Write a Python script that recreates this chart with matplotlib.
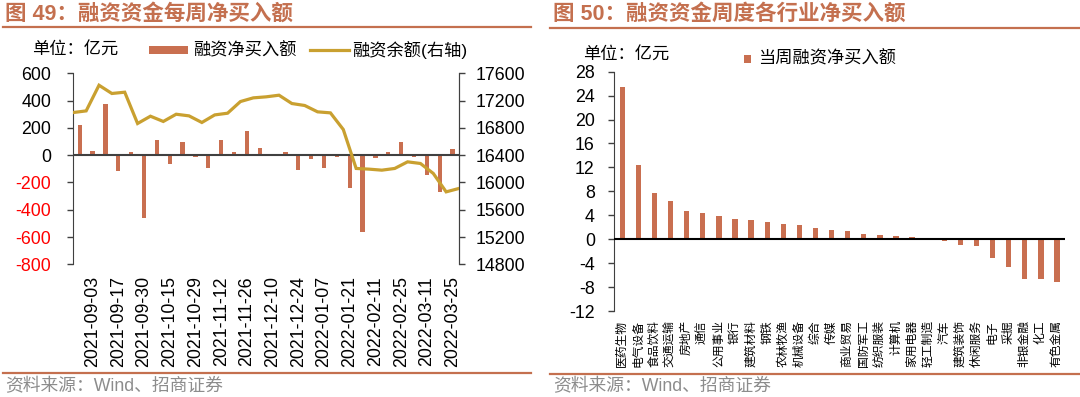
import matplotlib
matplotlib.use('Agg')
import matplotlib.pyplot as plt
import numpy as np
from matplotlib.patches import Rectangle
from matplotlib.lines import Line2D

plt.rcParams['font.family'] = ['Liberation Sans', 'Noto Sans CJK SC', 'DejaVu Sans']

# ---------------- data ----------------
weeks = ['2021-08-27', '2021-09-03', '2021-09-10', '2021-09-17', '2021-09-24',
         '2021-09-30', '2021-10-08', '2021-10-15', '2021-10-22', '2021-10-29',
         '2021-11-05', '2021-11-12', '2021-11-19', '2021-11-26', '2021-12-03',
         '2021-12-10', '2021-12-17', '2021-12-24', '2021-12-31', '2022-01-07',
         '2022-01-14', '2022-01-21', '2022-01-28', '2022-02-11', '2022-02-18',
         '2022-02-25', '2022-03-04', '2022-03-11', '2022-03-18', '2022-03-25']
net_buy = [220, 32, 376, -117, 24, -464, 110, -68, 97, -17,
           -93, 110, 24, 176, 54, 10, 22, -110, -27, -93,
           -17, -242, -562, -24, 22, 100, -12, -147, -269, 46]
balance = [17025, 17049, 17425, 17304, 17323, 16864, 16971, 16894, 17000, 16976,
           16879, 16990, 17015, 17186, 17240, 17255, 17279, 17157, 17128, 17035,
           17020, 16776, 16205, 16195, 16180, 16205, 16302, 16278, 16132, 15862,
           15912]

industries = ['医药生物', '电气设备', '食品饮料', '交通运输', '房地产', '通信', '公用事业',
              '银行', '建筑材料', '钢铁', '农林牧渔', '机械设备', '综合', '传媒',
              '商业贸易', '国防军工', '纺织服装', '计算机', '家用电器', '轻工制造',
              '汽车', '建筑装饰', '休闲服务', '电子', '采掘', '非银金融', '化工', '有色金属']
industry_net = [25.4, 12.4, 7.7, 6.4, 4.7, 4.45, 3.8, 3.35, 3.2, 2.8,
                2.6, 2.3, 1.8, 1.5, 1.3, 0.8, 0.7, 0.5, 0.45, 0.15,
                -0.3, -0.9, -1.2, -3.2, -4.6, -6.6, -6.6, -7.1]

left_yticks = [600, 400, 200, 0, -200, -400, -600, -800]
right_yticks = [17600, 17200, 16800, 16400, 16000, 15600, 15200, 14800]
ind_yticks = [28, 24, 20, 16, 12, 8, 4, 0, -4, -8, -12]

# ---------------- style ----------------
BAR = '#C96F50'
GOLD = '#C9A030'
TITLE = '#C4704F'
SPINE = '#404040'
GRAY = '#8C8C8C'
TICK_FS = 12.8

W, H = 1080, 397
fig = plt.figure(figsize=(10.8, 3.97), dpi=100)


def fx(px):
    return px / W


def fy(py):
    return 1 - py / H


def add_ax(x0, y0, x1, y1):
    return fig.add_axes([fx(x0), fy(y1), fx(x1) - fx(x0), fy(y0) - fy(y1)])


# ---------------- headers / footers ----------------
for x, txt in [(5, '图 49：融资资金每周净买入额'), (553, '图 50：融资资金周度各行业净买入额')]:
    fig.text(fx(x), fy(14), txt, fontsize=15.5, fontweight='bold', color=TITLE,
             ha='left', va='center')
fig.add_artist(Line2D([fx(3), fx(531)], [fy(27), fy(27)], color=TITLE, lw=1.6))
fig.add_artist(Line2D([fx(550), fx(1080)], [fy(28), fy(28)], color=TITLE, lw=1.6))
fig.add_artist(Line2D([fx(3), fx(531)], [fy(372.5), fy(372.5)], color=TITLE, lw=1.6))
fig.add_artist(Line2D([fx(550), fx(1080)], [fy(373.5), fy(373.5)], color=TITLE, lw=1.6))
for x in (5, 553):
    fig.text(fx(x), fy(387), '资料来源：Wind、招商证券', fontsize=12.8, color=GRAY,
             ha='left', va='center')

# ---------------- left chart ----------------
ax1 = add_ax(73.3, 73.3, 459, 264.3)
x = np.arange(len(net_buy))
ax1.bar(x, net_buy, width=0.34, color=BAR, zorder=2)
ax1.set_xlim(-0.5, len(net_buy) - 0.5)
ax1.set_ylim(-800, 600)
ax1.set_yticks(left_yticks)
ax1.set_yticklabels([str(v) for v in left_yticks], fontsize=TICK_FS)
for lab, v in zip(ax1.get_yticklabels(), left_yticks):
    lab.set_color('#FF0000' if v < 0 else 'black')
ax1.axhline(0, color=SPINE, lw=1.5, zorder=3)
ax1.set_xticks(x[1::2])
ax1.set_xticklabels(weeks[1::2], rotation=90, fontsize=TICK_FS)
ax1.tick_params(axis='x', length=0, pad=8.5)
ax1.tick_params(axis='y', direction='out', length=4, width=1, color=SPINE, pad=12)
for s in ('top', 'bottom'):
    ax1.spines[s].set_visible(False)
ax1.spines['left'].set_color(SPINE)
ax1.spines['right'].set_color(SPINE)

ax2 = ax1.twinx()
ax2.plot(np.arange(len(balance)) - 0.5, balance, color=GOLD, lw=2.3,
         solid_joinstyle='miter', zorder=4)
ax2.set_ylim(14800, 17600)
ax2.set_yticks(right_yticks)
ax2.set_yticklabels([str(v) for v in right_yticks], fontsize=TICK_FS)
ax2.tick_params(axis='y', direction='out', length=4, width=1, color=SPINE, pad=8)
for s in ('top', 'bottom', 'left'):
    ax2.spines[s].set_visible(False)
ax2.spines['right'].set_color(SPINE)
ax2.set_xlim(-0.5, len(net_buy) - 0.5)

# left legend / unit
fig.text(fx(32), fy(50), '单位：亿元', fontsize=12.4, ha='left', va='center')
fig.add_artist(Rectangle((fx(149), fy(54)), fx(188) - fx(149), fy(46) - fy(54),
                         facecolor=BAR, edgecolor='none'))
fig.text(fx(193), fy(50), '融资净买入额', fontsize=12.4, ha='left', va='center')
fig.add_artist(Line2D([fx(310), fx(349)], [fy(50), fy(50)], color=GOLD, lw=2.3))
fig.text(fx(352), fy(50), '融资余额(右轴)', fontsize=12.4, ha='left', va='center')

# ---------------- right chart ----------------
ax3 = add_ax(614.3, 71.7, 1065, 311)
xi = np.arange(len(industry_net))
ax3.bar(xi, industry_net, width=0.33, color=BAR, zorder=2)
ax3.set_xlim(-0.5, len(industry_net) - 0.5)
ax3.set_ylim(-12, 28)
ax3.set_yticks(ind_yticks)
ax3.set_yticklabels([str(v) for v in ind_yticks], fontsize=TICK_FS)
ax3.axhline(0, color='black', lw=1.5, zorder=3)
ax3.set_xticks(xi)
ax3.set_xticklabels(industries, rotation=90, fontsize=8.5)
ax3.tick_params(axis='x', length=0, pad=6.5)
ax3.tick_params(axis='y', direction='out', length=4, width=1, color=SPINE, pad=10)
for s in ('top', 'bottom', 'right'):
    ax3.spines[s].set_visible(False)
ax3.spines['left'].set_color(SPINE)

fig.text(fx(583), fy(55), '单位：亿元', fontsize=12.4, ha='left', va='center')
fig.add_artist(Rectangle((fx(744), fy(63)), fx(751) - fx(744), fy(55) - fy(63),
                         facecolor=BAR, edgecolor='none'))
fig.text(fx(758), fy(58), '当周融资净买入额', fontsize=12.4, ha='left', va='center')

fig.savefig('out.png', dpi=100)
